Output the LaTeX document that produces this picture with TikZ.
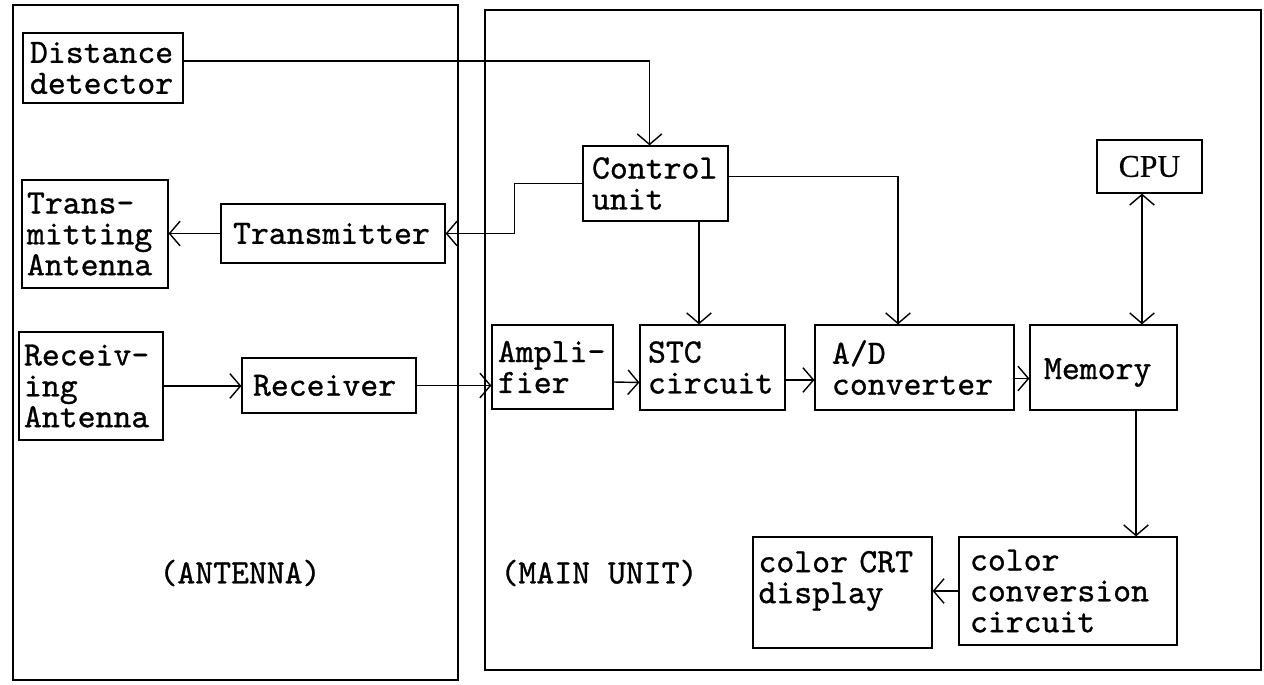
\documentclass[tikz,border=0pt]{standalone}
\usepackage{fontspec}
\newfontfamily\dotfont[FakeBold=0.9]{lmmono10-regular.otf}
\newfontfamily\cpufont[FakeBold=0.6]{Liberation Serif}
\usetikzlibrary{arrows.meta}
\begin{document}
\begin{tikzpicture}[x=0.02cm,y=-0.02cm,
  blk/.style={draw,rectangle,line width=0.7pt,inner sep=0pt,align=left,
    font=\dotfont\fontsize{19.4pt}{17.6pt}\selectfont},
  region/.style={draw,rectangle,line width=1.2pt,inner sep=0pt},
  lbl/.style={font=\dotfont\fontsize{19.4pt}{17.6pt}\selectfont,inner sep=0pt},
  arr/.style={line width=0.8pt,-{Straight Barb[length=6pt,width=14pt]}},
  darr/.style={line width=0.8pt,{Straight Barb[length=6pt,width=14pt]}-{Straight Barb[length=6pt,width=14pt]}}]
\useasboundingbox (0,0) rectangle (1264,685);
% regions
\node[region,minimum width=8.9cm,minimum height=13.5cm] (ant) at (235.5,342.5) {};
\node[region,minimum width=15.52cm,minimum height=13.2cm] (main) at (873,340) {};
\node[lbl] (antl) at (240,573) {(ANTENNA)};
\node[lbl] (mainl) at (599,573) {(MAIN UNIT)};
% blocks
\node[blk,minimum width=3.2cm,minimum height=1.4cm,text width=2.92cm] (dd) at (103,68) {Distance\\detector};
\node[blk,minimum width=2.92cm,minimum height=2.16cm,text width=2.72cm] (ta) at (95,234) {Trans-\\mitting\\Antenna};
\node[blk,minimum width=4.48cm,minimum height=1.18cm,text width=4.0cm] (tx) at (333,233.5) {Transmitter};
\node[blk,minimum width=2.9cm,minimum height=1.5cm,text width=2.54cm] (cu) at (655.5,183.5) {Control\\unit};
\node[draw,rectangle,line width=0.7pt,inner sep=0pt,minimum width=2.1cm,minimum height=1.06cm,font=\cpufont\fontsize{18pt}{18pt}\selectfont] (cpu) at (1149.5,166.5) {CPU};
\node[blk,minimum width=2.88cm,minimum height=2.16cm,text width=2.68cm] (ra) at (91,386) {Receiv-\\ing\\Antenna};
\node[blk,minimum width=3.48cm,minimum height=1.1cm,text width=3.04cm] (rx) at (329,385.5) {Receiver};
\node[blk,minimum width=2.42cm,minimum height=1.68cm,text width=2.18cm] (amp) at (552.5,367) {Ampli-\\fier};
\node[blk,minimum width=2.9cm,minimum height=1.7cm,text width=2.58cm] (stc) at (712.5,367.5) {STC\\circuit};
\node[blk,minimum width=3.98cm,minimum height=1.7cm,text width=3.3cm] (ad) at (914.5,367.5) {A/D\\converter};
\node[blk,minimum width=2.94cm,minimum height=1.7cm,text width=2.38cm] (mem) at (1103.5,367.5) {\mbox{}\\Memory};
\node[blk,minimum width=3.58cm,minimum height=2.22cm,text width=3.36cm] (crt) at (842.5,592.5) {color CRT\\display\\\mbox{}};
\node[blk,minimum width=4.36cm,minimum height=2.16cm,text width=3.92cm] (cc) at (1068,591) {color\\conversion\\circuit};
% helper coordinates
\coordinate (k0) at ([yshift=0.14cm]dd.east);
\coordinate (k1) at ([xshift=0.87cm]cu.south);
\coordinate (k2) at ([xshift=-0.33cm]ad.north);
\coordinate (k3) at ([xshift=-0.15cm]cpu.south);
\coordinate (k4) at ([xshift=0.65cm]mem.south);
\coordinate (k5) at ([yshift=0.14cm]cu.east);
% connectors
\draw[arr] (k0) -| ([xshift=-0.12cm]cu.north);
\draw[arr] (cu.west) -- ++(-68,0) |- (tx.east);
\draw[arr] (tx.west) -- (tx.west -| ta.east);
\draw[arr] (k1) -- (k1 |- stc.north);
\draw[arr] (k5) -| (k2);
\draw[darr] (k3) -- (k3 |- mem.north);
\draw[arr] (ra.east) -- (ra.east -| rx.west);
\draw[arr] (rx.east) -- (rx.east -| amp.west);
\draw[arr] ([yshift=-0.3cm]amp.east) -- ([yshift=-0.3cm]stc.west);
\draw[arr] ([yshift=-0.25cm]stc.east) -- ([yshift=-0.25cm]ad.west);
\draw[arr] ([yshift=-0.22cm]ad.east) -- ([yshift=-0.22cm]mem.west);
\draw[arr] (k4) -- (k4 |- cc.north);
\draw[arr] (cc.west) -- (cc.west -| crt.east);
\end{tikzpicture}
\end{document}
